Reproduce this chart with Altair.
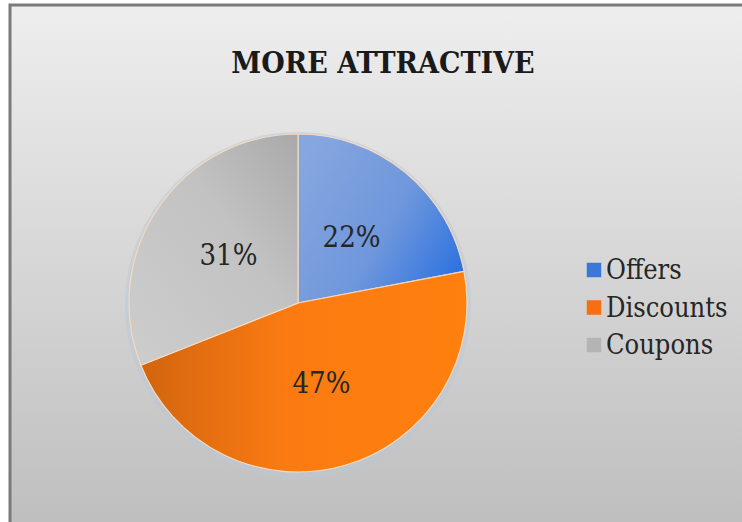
import altair as alt
import pandas as pd

categories = ["Offers", "Discounts", "Coupons"]
values = [22, 47, 31]
title_text = "MORE ATTRACTIVE"

W, H = 742, 522
CX, CY, R = 298, 303, 169
SERIF = "DejaVu Serif Condensed, DejaVu Serif"

df = pd.DataFrame({
    "cat": categories,
    "value": values,
    "order": list(range(len(categories))),
})
df["label"] = df["value"].astype(str) + "%"

gradients = {
    "Offers": alt.Gradient(gradient="linear", x1=0, y1=0.2, x2=1, y2=0.8,
                           stops=[alt.GradientStop(offset=0, color="#86a6df"),
                                  alt.GradientStop(offset=0.55, color="#6f97dc"),
                                  alt.GradientStop(offset=1, color="#2c72e0")]),
    "Discounts": alt.Gradient(gradient="linear", x1=0, y1=0.5, x2=1, y2=0.5,
                              stops=[alt.GradientStop(offset=0, color="#d2650f"),
                                     alt.GradientStop(offset=0.45, color="#fb7b12"),
                                     alt.GradientStop(offset=1, color="#ff800e")]),
    "Coupons": alt.Gradient(gradient="linear", x1=0, y1=1, x2=1, y2=0,
                            stops=[alt.GradientStop(offset=0, color="#cdcdcd"),
                                   alt.GradientStop(offset=0.6, color="#c2c2c2"),
                                   alt.GradientStop(offset=1, color="#a9a9a9")]),
}
legend_colors = {"Offers": "#3a78d8", "Discounts": "#f76f10", "Coupons": "#b4b4b4"}

theta_scale = alt.Scale(domain=[0, sum(values)])

base = alt.Chart(df).transform_stack(
    stack="value", groupby=[], as_=["start", "end"],
    sort=[alt.SortField("order", order="ascending")]
).transform_calculate(mid="(datum.start + datum.end) / 2")

bg = alt.Chart(pd.DataFrame({"k": [0]})).mark_rect(
    fill=alt.Gradient(gradient="linear", x1=0, y1=0, x2=0, y2=1,
                      stops=[alt.GradientStop(offset=0, color="#eeeeee"),
                             alt.GradientStop(offset=1, color="#bdbdbd")]),
    stroke="#7a7a7a", strokeWidth=3,
).encode(x=alt.value(10), x2=alt.value(W + 20), y=alt.value(5), y2=alt.value(H + 20))

glow = alt.Chart(pd.DataFrame({"k": [0]})).mark_arc(
    outerRadius=R + 4, fill="#b9c8d6", opacity=0.5
).encode(theta=alt.value(2 * 3.14159265), x=alt.value(CX), y=alt.value(CY + 2))

layers = [bg, glow]
for cat in categories:
    layers.append(
        base.transform_filter(alt.datum.cat == cat).mark_arc(
            outerRadius=R, fill=gradients[cat], stroke="#f6d9bd", strokeWidth=1.2
        ).encode(
            theta=alt.Theta("start:Q", scale=theta_scale),
            theta2="end:Q",
            x=alt.value(CX), y=alt.value(CY),
        )
    )

labels = base.mark_text(
    radius=84, font=SERIF, fontSize=29, color="#262626",
    align="center", baseline="middle"
).encode(
    theta=alt.Theta("mid:Q", scale=theta_scale),
    text="label:N",
    x=alt.value(CX), y=alt.value(CY),
)
layers.append(labels)

idx_scale = alt.Scale(domain=[0, len(categories) - 1], range=[270, 345])
leg_sq = alt.Chart(df).mark_square(size=210, opacity=1).encode(
    x=alt.value(594),
    y=alt.Y("order:Q", scale=idx_scale, axis=None),
    fill=alt.Fill("cat:N", scale=alt.Scale(domain=categories,
                                           range=[legend_colors[c] for c in categories]),
                  legend=None),
)
leg_tx = alt.Chart(df).mark_text(
    font=SERIF, fontSize=27, color="#262626", align="left", baseline="middle", dy=1
).encode(
    x=alt.value(606),
    y=alt.Y("order:Q", scale=idx_scale, axis=None),
    text="cat:N",
)
layers += [leg_sq, leg_tx]

title = alt.Chart(pd.DataFrame({"t": [title_text]})).mark_text(
    font=SERIF, fontSize=30, fontWeight="bold", color="#1a1a1a",
    align="center", baseline="middle"
).encode(x=alt.value(383), y=alt.value(64), text="t:N")
layers.append(title)

chart = alt.layer(*layers).properties(
    width=W, height=H, padding=0, autosize=alt.AutoSizeParams(type="none"),
    background="white",
).configure_view(stroke=None)

chart.save("out.html", embed_options={"renderer": "svg", "actions": False})
